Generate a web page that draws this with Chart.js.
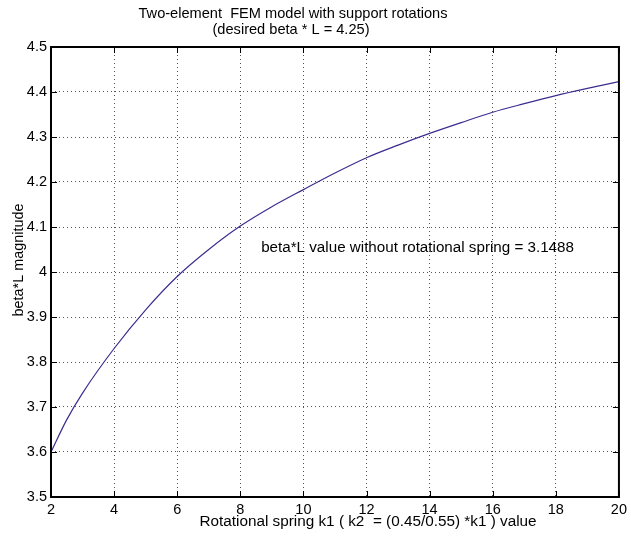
<!DOCTYPE html>
<html>
<head>
<meta charset="utf-8">
<script src="https://cdn.jsdelivr.net/npm/chart.js@4/dist/chart.umd.min.js"></script>
<style>
  body { margin: 0; background: #fff; }
  canvas { display: block; }
</style>
</head>
<body>
<canvas id="c" width="631" height="537"></canvas>
<script>
// values
const springK1 = [2, 2.5, 3, 4, 5, 6, 7, 8, 9, 10, 11, 12, 13, 14, 15, 16, 17, 18, 19, 20];
const betaL = [3.600, 3.672, 3.731, 3.830, 3.916, 3.990, 4.050, 4.102, 4.145, 4.183, 4.220, 4.254, 4.282, 4.308, 4.332, 4.355, 4.374, 4.392, 4.408, 4.423];
const xTicks = [2, 4, 6, 8, 10, 12, 14, 16, 18, 20];
const yTicks = [3.5, 3.6, 3.7, 3.8, 3.9, 4, 4.1, 4.2, 4.3, 4.4, 4.5];

const titleLines = ["Two-element  FEM model with support rotations", "(desired beta * L = 4.25)"];
const xLabel = "Rotational spring k1 ( k2  = (0.45/0.55) *k1 ) value";
const yLabel = "beta*L magnitude";
const note = "beta*L value without rotational spring = 3.1488";
const notePos = [8.66, 4.053];

const FONT = '"Liberation Sans", Arial, sans-serif';

const overlay = {
  id: "overlay",
  afterDraw(chart) {
    const { ctx, chartArea: a, scales: { x, y } } = chart;
    ctx.save();
    ctx.strokeStyle = "#000";

    // inward tick marks on all four sides
    ctx.lineWidth = 1;
    ctx.beginPath();
    x.ticks.forEach(t => {
      const px = Math.round(x.getPixelForValue(t.value)) + 0.5;
      ctx.moveTo(px, a.bottom); ctx.lineTo(px, a.bottom - 6);
      ctx.moveTo(px, a.top); ctx.lineTo(px, a.top + 6);
    });
    y.ticks.forEach(t => {
      const py = Math.round(y.getPixelForValue(t.value)) + 0.5;
      ctx.moveTo(a.left, py); ctx.lineTo(a.left + 6, py);
      ctx.moveTo(a.right, py); ctx.lineTo(a.right - 6, py);
    });
    ctx.stroke();

    // axes box
    ctx.lineWidth = 2;
    ctx.strokeRect(a.left, a.top, a.right - a.left, a.bottom - a.top);

    ctx.fillStyle = "#000";
    ctx.textBaseline = "middle";

    // title
    ctx.font = "14.6px " + FONT;
    ctx.textAlign = "center";
    ctx.fillText(titleLines[0], 293, 14);
    ctx.fillText(titleLines[1], 291, 30);

    // x label
    ctx.font = "15.3px " + FONT;
    ctx.fillText(xLabel, 368, 522);

    // y label
    ctx.font = "14.4px " + FONT;
    ctx.save();
    ctx.translate(19, 260);
    ctx.rotate(-Math.PI / 2);
    ctx.fillText(yLabel, 0, 0);
    ctx.restore();

    // annotation
    ctx.font = "15.2px " + FONT;
    ctx.textAlign = "left";
    ctx.fillText(note, x.getPixelForValue(notePos[0]), y.getPixelForValue(notePos[1]));
    ctx.restore();
  }
};

new Chart(document.getElementById("c"), {
  type: "line",
  data: {
    datasets: [{
      data: springK1.map((k, i) => ({ x: k, y: betaL[i] })),
      borderColor: "#3a2d8f",
      borderWidth: 1.2,
      pointRadius: 0,
      fill: false,
      cubicInterpolationMode: "monotone"
    }]
  },
  options: {
    responsive: false,
    animation: false,
    layout: { padding: { top: 47, right: 10, left: 0, bottom: 0 } },
    plugins: { legend: { display: false }, tooltip: { enabled: false } },
    scales: {
      x: {
        type: "linear",
        min: 2, max: 20,
        afterBuildTicks: s => { s.ticks = xTicks.map(v => ({ value: v })); },
        afterFit: s => { s.height = 40; },
        border: { display: false, dash: [1, 3] },
        grid: { color: "#555", drawTicks: false, lineWidth: 1 },
        ticks: { color: "#000", font: { family: FONT, size: 14.5 }, padding: 4, maxRotation: 0,
                 callback: v => String(v) }
      },
      y: {
        type: "linear",
        min: 3.5, max: 4.5,
        afterBuildTicks: s => { s.ticks = yTicks.map(v => ({ value: v })); },
        afterFit: s => { s.width = 51; },
        border: { display: false, dash: [1, 3] },
        grid: { color: "#555", drawTicks: false, lineWidth: 1 },
        ticks: { color: "#000", font: { family: FONT, size: 14.5 }, padding: 4,
                 callback: v => String(Math.round(v * 10) / 10) }
      }
    }
  },
  plugins: [overlay]
});
</script>
</body>
</html>
